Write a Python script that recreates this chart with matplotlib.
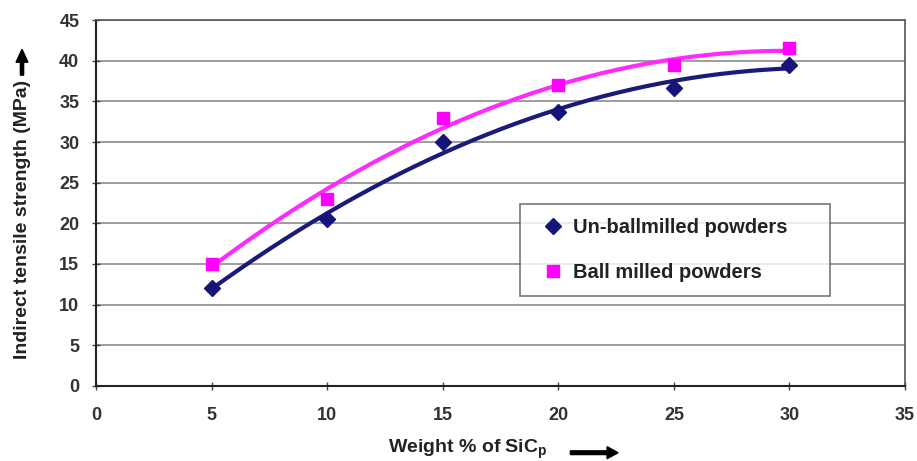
import numpy as np
import matplotlib
matplotlib.use('Agg')
import matplotlib.pyplot as plt

# data
weight_pct = [5, 10, 15, 20, 25, 30]
unballmilled = [12.0, 20.5, 30.0, 33.7, 36.7, 39.5]
ballmilled = [15.0, 23.0, 33.0, 37.0, 39.5, 41.5]
x_ticks = [0, 5, 10, 15, 20, 25, 30, 35]
y_ticks = [0, 5, 10, 15, 20, 25, 30, 35, 40, 45]

plt.rcParams['font.family'] = ['Liberation Sans', 'DejaVu Sans']
plt.rcParams['font.weight'] = 'bold'

fig = plt.figure(figsize=(9.17, 4.61), dpi=100)
ax = fig.add_axes([0.1047, 0.1627, 0.8823, 0.7939])

# 2nd order polynomial trendlines (like Excel)
xs = np.linspace(5, 30, 200)
for ys, col in [(unballmilled, '#1a1a7a'), (ballmilled, '#ff2aff')]:
    p = np.polyfit(weight_pct, ys, 2)
    ax.plot(xs, np.polyval(p, xs), color=col, linewidth=3, zorder=3)

ax.plot(weight_pct, unballmilled, linestyle='none', marker='D', markersize=8,
        color='#14147a', label='Un-ballmilled powders', zorder=4)
ax.plot(weight_pct, ballmilled, linestyle='none', marker='s', markersize=9,
        color='#ff00ff', label='Ball milled powders', zorder=4)

ax.set_xlim(0, 35)
ax.set_ylim(0, 45)
ax.set_xticks(x_ticks)
ax.set_yticks(y_ticks)
ax.yaxis.grid(True, color='#8c8c8c', linewidth=1.2)
ax.set_axisbelow(True)
ax.tick_params(direction='inout', length=6, width=1, colors='#444444',
               labelsize=13, labelcolor='#333333')
ax.tick_params(axis='x', pad=12)
ax.tick_params(axis='y', pad=9)
for s in ['left', 'bottom']:
    ax.spines[s].set_color('#222222')
    ax.spines[s].set_linewidth(1.5)
for s in ['top', 'right']:
    ax.spines[s].set_color('#555555')
    ax.spines[s].set_linewidth(1.2)

leg = ax.legend(loc='upper left', bbox_to_anchor=(0.524, 0.397, 0.383, 0.1),
                mode='expand', fontsize=14.5, frameon=True, fancybox=False,
                handletextpad=0.05, handlelength=1.9, borderpad=0.68,
                labelspacing=1.3, borderaxespad=0)
leg.get_frame().set_edgecolor('#555555')
leg.get_frame().set_linewidth(1.2)
for t in leg.get_texts():
    t.set_color('#222222')

fig.text(0.025, 0.523, 'Indirect tensile strength (MPa)', rotation=90,
         ha='center', va='center', fontsize=14, color='#222222')
fig.text(0.510, 0.019, 'Weight % of SiC$_\\mathregular{p}$', ha='center',
         va='baseline', fontsize=14, color='#222222')

fig.patches.append(matplotlib.patches.FancyArrow(
    0.622, 0.018, 0.052, 0, width=0.008, head_width=0.026, head_length=0.012,
    length_includes_head=True, color='black', transform=fig.transFigure))
fig.patches.append(matplotlib.patches.FancyArrow(
    0.024, 0.837, 0, 0.056, width=0.0035, head_width=0.013, head_length=0.028,
    length_includes_head=True, color='black', transform=fig.transFigure))

fig.savefig('out.png', dpi=100)
